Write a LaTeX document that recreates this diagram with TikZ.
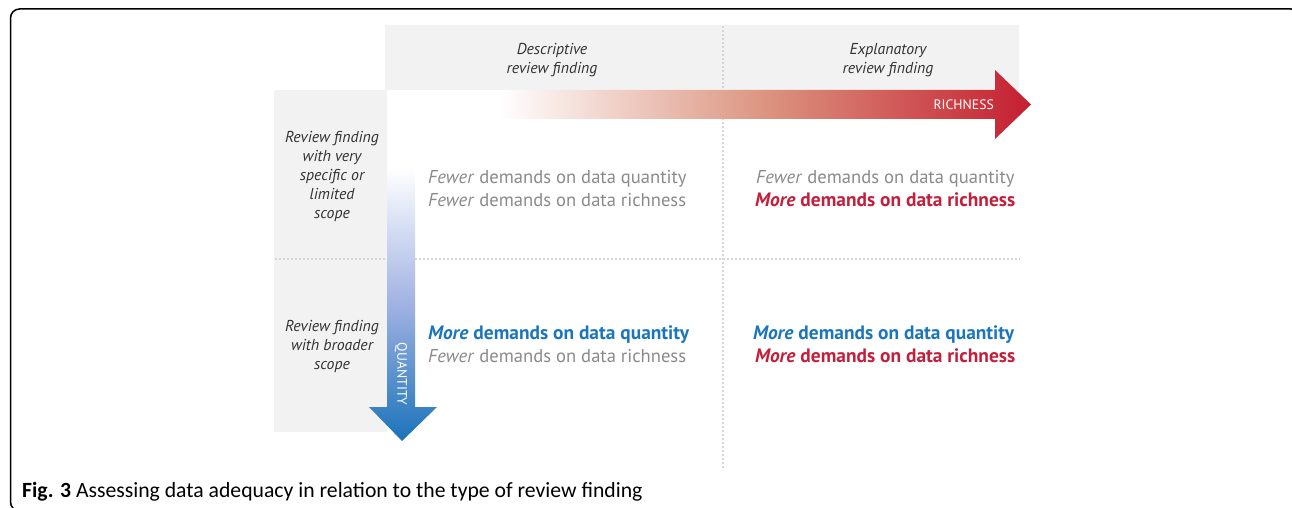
\documentclass[tikz,border=0pt]{standalone}
\usepackage{fontspec}
\setmainfont{PT Sans}
\newfontfamily\capfont{Carlito}
\usetikzlibrary{positioning,calc}
\definecolor{bandgray}{HTML}{F2F2F2}
\definecolor{dotgray}{HTML}{D6D6D6}
\definecolor{labelgray}{HTML}{333333}
\definecolor{fewergray}{HTML}{8A8A8A}
\definecolor{moreblue}{HTML}{1B75BC}
\definecolor{morered}{HTML}{C41E3A}
\definecolor{richred}{HTML}{C41E30}
\definecolor{richmid}{HTML}{DC9480}
\definecolor{quantblue}{HTML}{1A73BA}
\definecolor{quantmid}{HTML}{A0B2E2}

\begin{document}
\begin{tikzpicture}[x=1pt,y=-1pt,
  band/.style={fill=bandgray},
  divider/.style={dotgray,line width=1.6pt,dash pattern=on 1.6pt off 2.4pt},
  header/.style={font=\fontsize{15.8}{19}\selectfont\itshape,text=labelgray,align=center},
  cell/.style={font=\fontsize{18.6}{22}\selectfont,anchor=base west,inner sep=0pt},
  fewer/.style={cell,text=fewergray},
  more/.style={cell,font=\fontsize{19.4}{22}\selectfont\bfseries},
  arrowlabel/.style={font=\fontsize{13.7}{14}\selectfont,text=white,inner sep=0pt}]
\useasboundingbox (0,0) rectangle (1292,508);
\clip (0,0) rectangle (1292,508);
% frame
\draw[line width=1.5pt,rounded corners=9pt] (10.5,9) rectangle (1300,511);
% grey bands
\fill[band] (385,25) rectangle (1019,90);
\fill[band] (274,90) rectangle (387,432);
% dotted dividers
\draw[divider] (723,26) -- (723,468);
\draw[divider] (275,259) -- (1020,259);
% richness arrow
\shade[left color=white,right color=richred,middle color=richmid]
  (500,90) -- (995,90) -- (995,70) -- (1031,104.5) -- (995,139) -- (995,119) -- (500,119) -- cycle;
\node[arrowlabel,anchor=east] (richness) at (994,104.5) {RICHNESS};
% quantity arrow
\shade[top color=white,bottom color=quantblue,middle color=quantmid]
  (387,168) -- (415,168) -- (415,407) -- (437,407) -- (402,441) -- (369,407) -- (387,407) -- cycle;
\node[arrowlabel,rotate=-90] (quantity) at (401,374) {QUANTITY};
% column and row heads
\node[header] (descr) at (552,60) {Descriptive\\review finding};
\node[header] (expl) at (888,60) {Explanatory\\review finding};
\node[header] (narrow) at (332,176) {Review finding\\with very\\specific or\\limited\\scope};
\node[header] (broad) at (332,346) {Review finding\\with broader\\scope};
% cells
\node[fewer] (tlq) at (428,183) {\textit{Fewer} demands on data quantity};
\node[fewer] (tlr) at (428,206) {\textit{Fewer} demands on data richness};
\node[fewer] (trq) at (756,183) {\textit{Fewer} demands on data quantity};
\node[more,text=morered] (trr) at (755,206) {\textit{More} demands on data richness};
\node[more,text=moreblue] (blq) at (428,339) {\textit{More} demands on data quantity};
\node[fewer] (blr) at (428,362) {\textit{Fewer} demands on data richness};
\node[more,text=moreblue] (brq) at (753,339) {\textit{More} demands on data quantity};
\node[more,text=morered] (brr) at (755,362) {\textit{More} demands on data richness};
% caption
\node[anchor=base west,inner sep=0pt,font=\capfont\fontsize{21.7}{22}\selectfont] (caption) at (22,497)
  {\textbf{Fig. 3} Assessing data adequacy in relation to the type of review finding};
\end{tikzpicture}
\end{document}
